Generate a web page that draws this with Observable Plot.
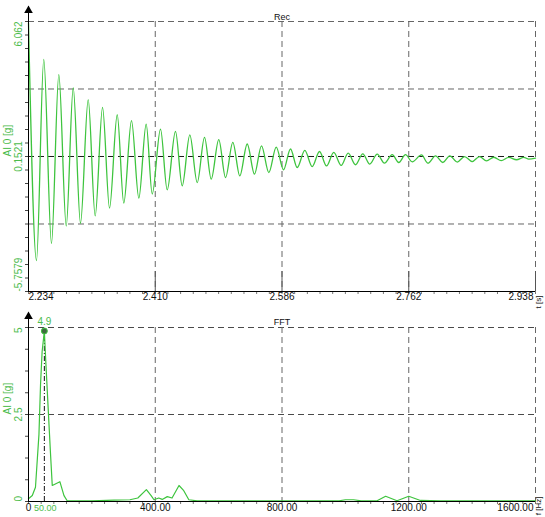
<!DOCTYPE html>
<html><head><meta charset="utf-8">
<script src="https://cdn.jsdelivr.net/npm/d3@7"></script>
<script src="https://cdn.jsdelivr.net/npm/@observablehq/plot@0.6"></script>
<style>
body{margin:0;background:#fff;}
#wrap{position:relative;width:545px;height:517px;overflow:hidden;background:#fff;}
#wrap svg{position:absolute;left:0;}
</style></head><body><div id="wrap"></div>
<script>
// ---- Rec (time signal) ----
const recTitle = "Rec";
const recYLabel = "AI 0 [g]";
const recXUnit = "t [s]";
const recXTicks = [2.234, 2.410, 2.586, 2.762, 2.938];
const recXLabels = ["2.234", "2.410", "2.586", "2.762", "2.938"];
const recYTicks = [6.062, 0.1521, -5.7579];
const recYLabels = ["6.062", "0.1521", "-5.7579"];
const recGridY = [6.062, 3.1071, -2.8029];
const recCenterY = [0.1521];
const recT = [2.2340, 2.2451, 2.2552, 2.2659, 2.2761, 2.2864, 2.2961, 2.3062, 2.3169, 2.3266,
  2.3368, 2.3465, 2.3572, 2.3663, 2.3770, 2.3872, 2.3974, 2.4058, 2.4173, 2.4266,
  2.4381, 2.4474, 2.4580, 2.4683, 2.4784, 2.4877, 2.4982, 2.5076, 2.5177, 2.5274,
  2.5377, 2.5478, 2.5575, 2.5677, 2.5780, 2.5881, 2.5978, 2.6071, 2.6177, 2.6279,
  2.6381, 2.6478, 2.6579, 2.6682, 2.6779, 2.6881, 2.6982, 2.7079, 2.7182, 2.7283,
  2.7390, 2.7482, 2.7575, 2.7668, 2.7797, 2.7885, 2.7992, 2.8093, 2.8190, 2.8293,
  2.8394, 2.8501, 2.8603, 2.8700, 2.8801, 2.8904, 2.9009, 2.9116, 2.9218, 2.9287, 2.9380];
const recV = [6.00, -4.40, 4.40, -3.65, 3.74, -2.89, 3.15, -2.77, 2.64, -2.45,
  2.30, -2.11, 1.98, -1.89, 1.72, -1.67, 1.57, -1.49, 1.35, -1.31,
  1.25, -1.13, 1.10, -0.99, 0.99, -0.84, 0.89, -0.77, 0.77, -0.70,
  0.70, -0.62, 0.62, -0.55, 0.56, -0.43, 0.48, -0.33, 0.42, -0.29,
  0.37, -0.26, 0.33, -0.24, 0.30, -0.21, 0.27, -0.18, 0.26, -0.14,
  0.23, -0.11, 0.23, -0.08, 0.22, -0.14, 0.18, -0.11, 0.18, -0.09,
  0.15, -0.07, 0.15, -0.04, 0.12, -0.03, 0.11, 0.01, 0.11, 0.04, 0.08];

// ---- FFT ----
const fftTitle = "FFT";
const fftYLabel = "AI 0 [g]";
const fftXUnit = "f [Hz]";
const fftXTicks = [0, 400, 800, 1200, 1600];
const fftXLabels = ["0", "400.00", "800.00", "1200.00", "1600.00"];
const fftYTicks = [5, 2.5, 0];
const fftYLabels = ["5", "2.5", "0"];
const fftHz = [0, 12, 22, 33, 38, 43, 50, 54, 62, 69, 75, 99, 112, 122, 200, 270, 320, 345,
  372, 387, 396, 411, 422, 438, 453, 475, 490, 506, 532, 600, 800, 980, 1000, 1026, 1050,
  1100, 1127, 1163, 1200, 1237, 1300, 1600];
const fftAmp = [0.08, 0.17, 0.41, 1.93, 3.36, 4.31, 4.90, 4.12, 2.69, 1.45, 0.46, 0.57, 0.17, 0.02, 0.02, 0.04, 0.05, 0.10,
  0.34, 0.17, 0.05, 0.10, 0.06, 0.14, 0.10, 0.46, 0.31, 0.05, 0.02, 0.02, 0.02, 0.02, 0.05, 0.05, 0.02,
  0.02, 0.15, 0.02, 0.15, 0.03, 0.02, 0.02];
const fftPeakHz = 50;
const fftPeakHzLabel = "50.00";
const fftPeakAmp = 4.9;
const fftPeakAmpLabel = "4.9";

const GREEN = "#3ec43e";
const TGREEN = "#4cbc4c";
const GRID = "#666";
const DASH = "6,4";
const FONT = "'Liberation Sans', Arial, sans-serif";
const W = 545, ML = 28, MR = 10;
const FW = W - ML - MR;

function baseStyle() {
  return {fontFamily: FONT, fontSize: "10px", background: "transparent", overflow: "visible"};
}

// ---------- top chart ----------
const H1 = 310, MT1 = 21, MB1 = 19;
const FH1 = H1 - MT1 - MB1;
const recMinorX = d3.range(0, 41).map(i => recXTicks[0] + i * (recXTicks[4] - recXTicks[0]) / 40);
const recMinorY = d3.range(0, 21).map(i => recYTicks[2] + i * (recYTicks[0] - recYTicks[2]) / 20);
const recData = recT.map((t, i) => ({t, v: recV[i]}));
const recYL = recYTicks.map((v, i) => ({v, s: recYLabels[i]}));
const recXL = recXTicks.map((v, i) => ({v, s: recXLabels[i]}));

const recChart = Plot.plot({
  width: W, height: H1, marginLeft: ML, marginRight: MR, marginTop: MT1, marginBottom: MB1,
  x: {domain: [recXTicks[0], recXTicks[4]], axis: null},
  y: {domain: [recYTicks[2], recYTicks[0]], axis: null},
  style: baseStyle(),
  marks: [
    Plot.ruleY(recGridY, {stroke: GRID, strokeDasharray: DASH}),
    Plot.ruleY(recCenterY, {stroke: "#1a1a1a", strokeDasharray: DASH}),
    Plot.ruleX(recXTicks.slice(1), {stroke: GRID, strokeDasharray: DASH}),
    Plot.tickX(recXTicks.slice(1), {insetTop: FH1 - 20, stroke: "#555"}),
    Plot.tickX(recMinorX, {insetTop: FH1, insetBottom: -3, stroke: "#777"}),
    Plot.tickY(recMinorY, {insetLeft: -3, insetRight: FW, stroke: "#444"}),
    Plot.line(recData, {x: "t", y: "v", stroke: GREEN, strokeWidth: 1.3, curve: "monotone-x"}),
    Plot.ruleX([recXTicks[0]], {insetTop: -15, stroke: "black"}),
    Plot.ruleY([recYTicks[2]], {stroke: "black"}),
    Plot.dot([{x: recXTicks[0], y: recYTicks[0]}], {x: "x", y: "y", symbol: "triangle", r: 3.2, fill: "black", dy: -11}),
    Plot.text([recTitle], {text: d => d, frameAnchor: "top", dy: -8, fontSize: 9, fill: "#111"}),
    Plot.text([recXUnit], {text: d => d, frameAnchor: "bottom-right", dx: 5, dy: 4, rotate: -90, fontSize: 8, fill: "#111"}),
    Plot.text([recYLabel], {text: d => d, frameAnchor: "left", dx: -21, rotate: -90, fill: TGREEN}),
    Plot.text(recYL.slice(0, 1), {y: "v", text: "s", frameAnchor: "left", dx: -10, rotate: -90, textAnchor: "end", fill: TGREEN}),
    Plot.text(recYL.slice(1, 2), {y: "v", text: "s", frameAnchor: "left", dx: -10, rotate: -90, textAnchor: "middle", fill: TGREEN}),
    Plot.text(recYL.slice(2), {y: "v", text: "s", frameAnchor: "left", dx: -10, rotate: -90, textAnchor: "start", fill: TGREEN}),
    Plot.text(recXL.slice(0, 1), {x: "v", text: "s", frameAnchor: "bottom", dy: 8, textAnchor: "start", fill: "#111"}),
    Plot.text(recXL.slice(1, 4), {x: "v", text: "s", frameAnchor: "bottom", dy: 8, textAnchor: "middle", fill: "#111"}),
    Plot.text(recXL.slice(4), {x: "v", text: "s", frameAnchor: "bottom", dy: 8, textAnchor: "end", dx: -2, fill: "#111"})
  ]
});

// ---------- bottom chart ----------
const H2 = 217, MT2 = 27, MB2 = 16;
const FH2 = H2 - MT2 - MB2;
const fftMinorX = d3.range(0, 41).map(i => i * 40);
const fftMinorY = d3.range(0, 9).map(i => i * 0.625);
const fftData = fftHz.map((f, i) => ({f, a: fftAmp[i]}));
const fftYL = fftYTicks.map((v, i) => ({v, s: fftYLabels[i]}));
const fftXL = fftXTicks.map((v, i) => ({v, s: fftXLabels[i]}));

const fftChart = Plot.plot({
  width: W, height: H2, marginLeft: ML, marginRight: MR, marginTop: MT2, marginBottom: MB2,
  x: {domain: [fftXTicks[0], fftXTicks[4]], axis: null},
  y: {domain: [fftYTicks[2], fftYTicks[0]], axis: null},
  style: baseStyle(),
  marks: [
    Plot.ruleY(fftYTicks.slice(0, 2), {stroke: "#4a4a4a", strokeDasharray: DASH}),
    Plot.ruleX(fftXTicks.slice(1), {stroke: GRID, strokeDasharray: DASH}),
    Plot.tickX(fftMinorX, {insetTop: FH2, insetBottom: -3, stroke: "#777"}),
    Plot.tickY(fftMinorY, {insetLeft: -3, insetRight: FW, stroke: "#444"}),
    Plot.ruleX([fftPeakHz], {y1: 0, y2: fftPeakAmp, stroke: "#111", strokeDasharray: "5,2,1,2"}),
    Plot.line(fftData, {x: "f", y: "a", stroke: GREEN, strokeWidth: 1.2}),
    Plot.ruleX([fftXTicks[0]], {insetTop: -14, stroke: "black"}),
    Plot.ruleY([0], {stroke: "black"}),
    Plot.dot([{x: fftXTicks[0], y: fftYTicks[0]}], {x: "x", y: "y", symbol: "triangle", r: 3.2, fill: "black", dy: -11}),
    Plot.dot([{f: fftPeakHz, a: fftPeakAmp}], {x: "f", y: "a", r: 3, fill: "#3f6a3f", stroke: GREEN, strokeWidth: 1}),
    Plot.text([{f: fftPeakHz, a: fftPeakAmp, s: fftPeakAmpLabel}], {x: "f", y: "a", text: "s", dy: -9, fill: TGREEN}),
    Plot.text([fftTitle], {text: d => d, frameAnchor: "top", dy: -9, fontSize: 9, fill: "#111"}),
    Plot.text([fftXUnit], {text: d => d, frameAnchor: "bottom-right", dx: 5, dy: -5, rotate: -90, fontSize: 8, fill: "#111"}),
    Plot.text([fftYLabel], {text: d => d, frameAnchor: "left", dx: -21, rotate: -90, fill: TGREEN}),
    Plot.text(fftYL.slice(0, 1), {y: "v", text: "s", frameAnchor: "left", dx: -10, rotate: -90, textAnchor: "end", fill: TGREEN}),
    Plot.text(fftYL.slice(1, 2), {y: "v", text: "s", frameAnchor: "left", dx: -10, rotate: -90, textAnchor: "middle", fill: TGREEN}),
    Plot.text(fftYL.slice(2), {y: "v", text: "s", frameAnchor: "left", dx: -10, rotate: -90, textAnchor: "start", fill: TGREEN}),
    Plot.text(fftXL.slice(0, 1), {x: "v", text: "s", frameAnchor: "bottom", dy: 9, textAnchor: "middle", fill: "#111"}),
    Plot.text(fftXL.slice(1, 4), {x: "v", text: "s", frameAnchor: "bottom", dy: 9, textAnchor: "middle", fill: "#111"}),
    Plot.text(fftXL.slice(4), {x: "v", text: "s", frameAnchor: "bottom", dy: 9, textAnchor: "end", dx: -2, fill: "#111"}),
    Plot.text([{f: fftPeakHz, s: fftPeakHzLabel}], {x: "f", text: "s", frameAnchor: "bottom", dy: 9, dx: 1, textAnchor: "middle", fontSize: 9, fill: TGREEN})
  ]
});

const wrap = document.getElementById("wrap");
recChart.style.top = "0px";
fftChart.style.top = "300px";
wrap.appendChild(recChart);
wrap.appendChild(fftChart);
</script></body></html>
